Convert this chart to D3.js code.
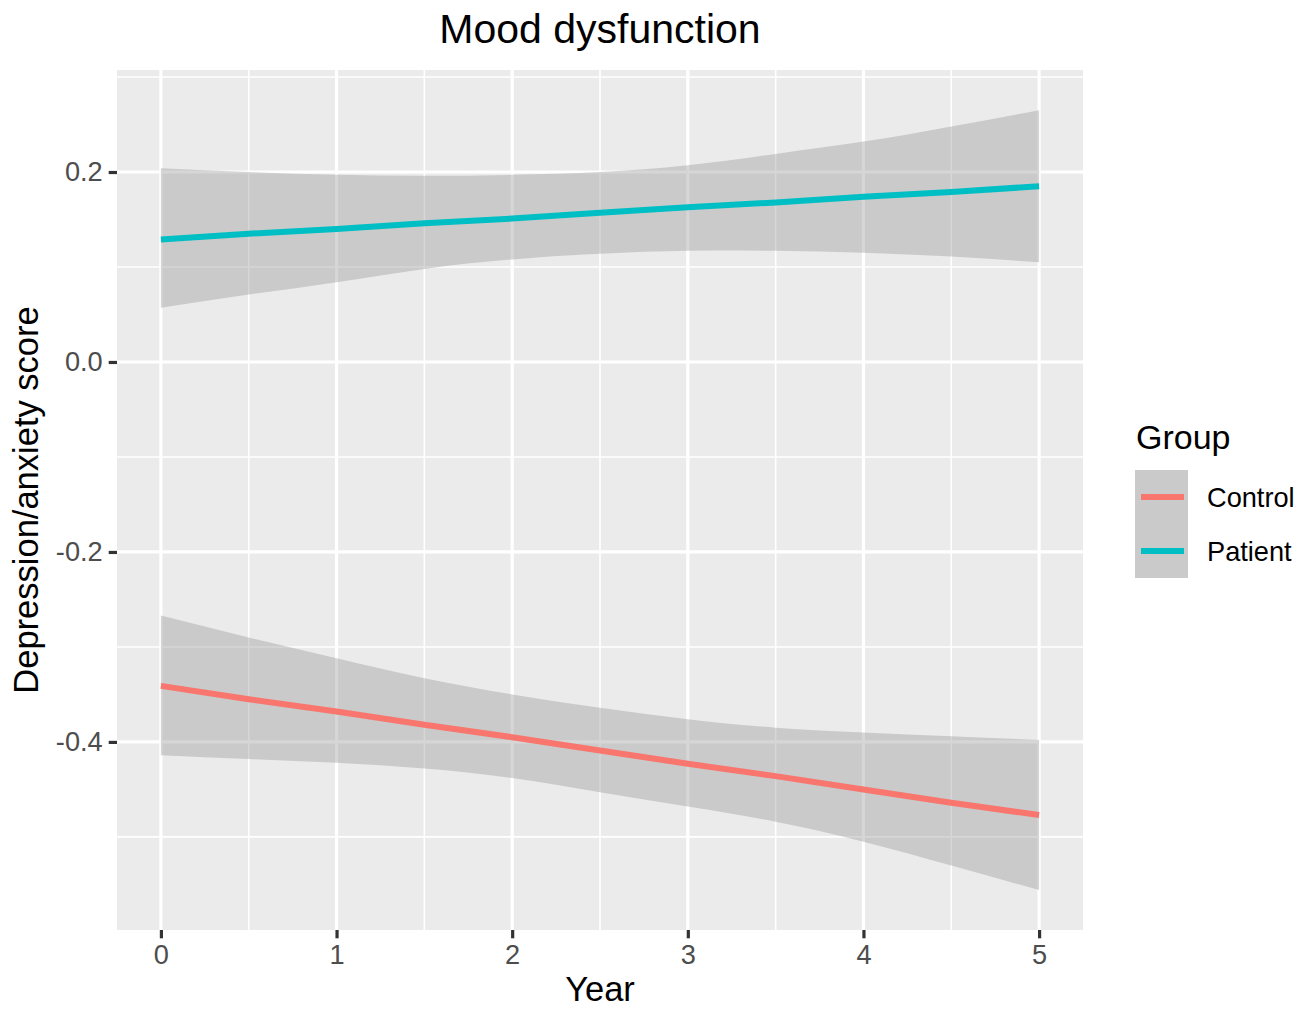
<!DOCTYPE html>
<html>
<head>
<meta charset="utf-8">
<script src="https://cdn.jsdelivr.net/npm/d3@7"></script>
<style>
  html, body { margin: 0; padding: 0; background: #ffffff; }
  svg { display: block; }
  text { font-family: "Liberation Sans", Arial, Helvetica, sans-serif; }
</style>
</head>
<body>
<svg id="chart" width="1312" height="1009"></svg>
<script>
// ---- data ----
const years = [0, 0.5, 1, 1.5, 2, 2.5, 3, 3.5, 4, 4.5, 5];
const groups = ["Control", "Patient"];
const groupColors = ["#F8766D", "#00BFC4"];

const controlFit   = [-0.341, -0.355, -0.368, -0.382, -0.395, -0.409, -0.423, -0.436, -0.450, -0.464, -0.477];
const controlUpper = [-0.267, -0.290, -0.312, -0.333, -0.350, -0.364, -0.376, -0.385, -0.390, -0.394, -0.398];
const controlLower = [-0.414, -0.418, -0.422, -0.428, -0.438, -0.453, -0.468, -0.484, -0.505, -0.530, -0.556];

const patientFit   = [0.129, 0.135, 0.140, 0.146, 0.151, 0.157, 0.163, 0.168, 0.174, 0.179, 0.185];
const patientUpper = [0.204, 0.200, 0.197, 0.196, 0.197, 0.200, 0.207, 0.219, 0.232, 0.248, 0.265];
const patientLower = [0.057, 0.071, 0.084, 0.098, 0.108, 0.114, 0.117, 0.117, 0.115, 0.111, 0.105];

const xTicks = [0, 1, 2, 3, 4, 5];
const xMinor = [0.5, 1.5, 2.5, 3.5, 4.5];
const yTicks = [0.2, 0.0, -0.2, -0.4];
const yMinor = [0.3, 0.1, -0.1, -0.3, -0.5];

const titleText = "Mood dysfunction";
const xLabel = "Year";
const yLabel = "Depression/anxiety score";
const legendTitle = "Group";

// ---- layout ----
const panel = { left: 117, right: 1083, top: 70, bottom: 930 };
const svg = d3.select("#chart");

const x = d3.scaleLinear().domain([-0.25, 5.25]).range([panel.left, panel.right]);
const y = d3.scaleLinear().domain([-0.598, 0.3074]).range([panel.bottom, panel.top]);

// panel background
svg.append("rect")
  .attr("x", panel.left).attr("y", panel.top)
  .attr("width", panel.right - panel.left).attr("height", panel.bottom - panel.top)
  .attr("fill", "#EBEBEB");

const grid = svg.append("g");
grid.selectAll(".ymin").data(yMinor).enter().append("line")
  .attr("x1", panel.left).attr("x2", panel.right)
  .attr("y1", d => y(d)).attr("y2", d => y(d))
  .attr("stroke", "#ffffff").attr("stroke-width", 1.6);
grid.selectAll(".xmin").data(xMinor).enter().append("line")
  .attr("y1", panel.top).attr("y2", panel.bottom)
  .attr("x1", d => x(d)).attr("x2", d => x(d))
  .attr("stroke", "#ffffff").attr("stroke-width", 1.6);
grid.selectAll(".ymaj").data(yTicks).enter().append("line")
  .attr("x1", panel.left).attr("x2", panel.right)
  .attr("y1", d => y(d)).attr("y2", d => y(d))
  .attr("stroke", "#ffffff").attr("stroke-width", 3.2);
grid.selectAll(".xmaj").data(xTicks).enter().append("line")
  .attr("y1", panel.top).attr("y2", panel.bottom)
  .attr("x1", d => x(d)).attr("x2", d => x(d))
  .attr("stroke", "#ffffff").attr("stroke-width", 3.2);

// ---- series ----
const series = [
  { name: groups[0], color: groupColors[0], fit: controlFit, lo: controlLower, hi: controlUpper },
  { name: groups[1], color: groupColors[1], fit: patientFit, lo: patientLower, hi: patientUpper }
];

const area = d3.area()
  .x((d, i) => x(years[i]))
  .y0(d => y(d[0]))
  .y1(d => y(d[1]))
  .curve(d3.curveNatural);

const line = d3.line()
  .x((d, i) => x(years[i]))
  .y(d => y(d))
  .curve(d3.curveLinear);

series.forEach(s => {
  const band = years.map((_, i) => [s.lo[i], s.hi[i]]);
  svg.append("path")
    .attr("d", area(band))
    .attr("fill", "#999999")
    .attr("fill-opacity", 0.4);
});
series.forEach(s => {
  svg.append("path")
    .attr("d", line(s.fit))
    .attr("fill", "none")
    .attr("stroke", s.color)
    .attr("stroke-width", 6);
});

// ---- axes ----
const tickFont = 27.2;
const xAxis = d3.axisBottom(x).tickValues(xTicks).tickSize(8.3).tickPadding(6).tickFormat(d3.format("d"));
const gx = svg.append("g").attr("transform", `translate(0,${panel.bottom})`).call(xAxis);
gx.select(".domain").remove();
gx.selectAll(".tick line").attr("stroke", "#333333").attr("stroke-width", 3.2);
gx.selectAll(".tick text").attr("fill", "#4D4D4D").attr("font-size", tickFont)
  .attr("font-family", "'Liberation Sans', Arial, sans-serif");

const yAxis = d3.axisLeft(y).tickValues(yTicks).tickSize(8.3).tickPadding(6).tickFormat(d3.format(".1f"));
const gy = svg.append("g").attr("transform", `translate(${panel.left},0)`).call(yAxis);
gy.select(".domain").remove();
gy.selectAll(".tick line").attr("stroke", "#333333").attr("stroke-width", 3.2);
gy.selectAll(".tick text").attr("fill", "#4D4D4D").attr("font-size", tickFont)
  .attr("font-family", "'Liberation Sans', Arial, sans-serif")
  .text(d => d3.format(".1f")(d).replace("−", "-"));

// ---- titles ----
svg.append("text")
  .attr("x", (panel.left + panel.right) / 2).attr("y", 43)
  .attr("text-anchor", "middle").attr("font-size", 41).attr("fill", "#000000")
  .text(titleText);

svg.append("text")
  .attr("x", (panel.left + panel.right) / 2).attr("y", 1001)
  .attr("text-anchor", "middle").attr("font-size", 34.5).attr("fill", "#000000")
  .text(xLabel);

svg.append("text")
  .attr("transform", `translate(38,${(panel.top + panel.bottom) / 2}) rotate(-90)`)
  .attr("text-anchor", "middle").attr("font-size", 34.5).attr("fill", "#000000")
  .text(yLabel);

// ---- legend ----
const legend = svg.append("g").attr("transform", "translate(1135,0)");
legend.append("text").attr("x", 1).attr("y", 449)
  .attr("font-size", 34).attr("fill", "#000000").text(legendTitle);

const keyTop = 470, keyH = 54, keyW = 53;
groups.forEach((g, i) => {
  const ky = keyTop + i * keyH;
  legend.append("rect").attr("x", 0).attr("y", ky).attr("width", keyW).attr("height", keyH)
    .attr("fill", "#EBEBEB");
  legend.append("rect").attr("x", 0).attr("y", ky).attr("width", keyW).attr("height", keyH)
    .attr("fill", "#999999").attr("fill-opacity", 0.4);
  legend.append("line")
    .attr("x1", 6).attr("x2", keyW - 4)
    .attr("y1", ky + keyH / 2).attr("y2", ky + keyH / 2)
    .attr("stroke", groupColors[i]).attr("stroke-width", 6);
  legend.append("text").attr("x", 72).attr("y", ky + keyH / 2 + 10)
    .attr("font-size", 27.2).attr("fill", "#000000").text(g);
});
</script>
</body>
</html>
